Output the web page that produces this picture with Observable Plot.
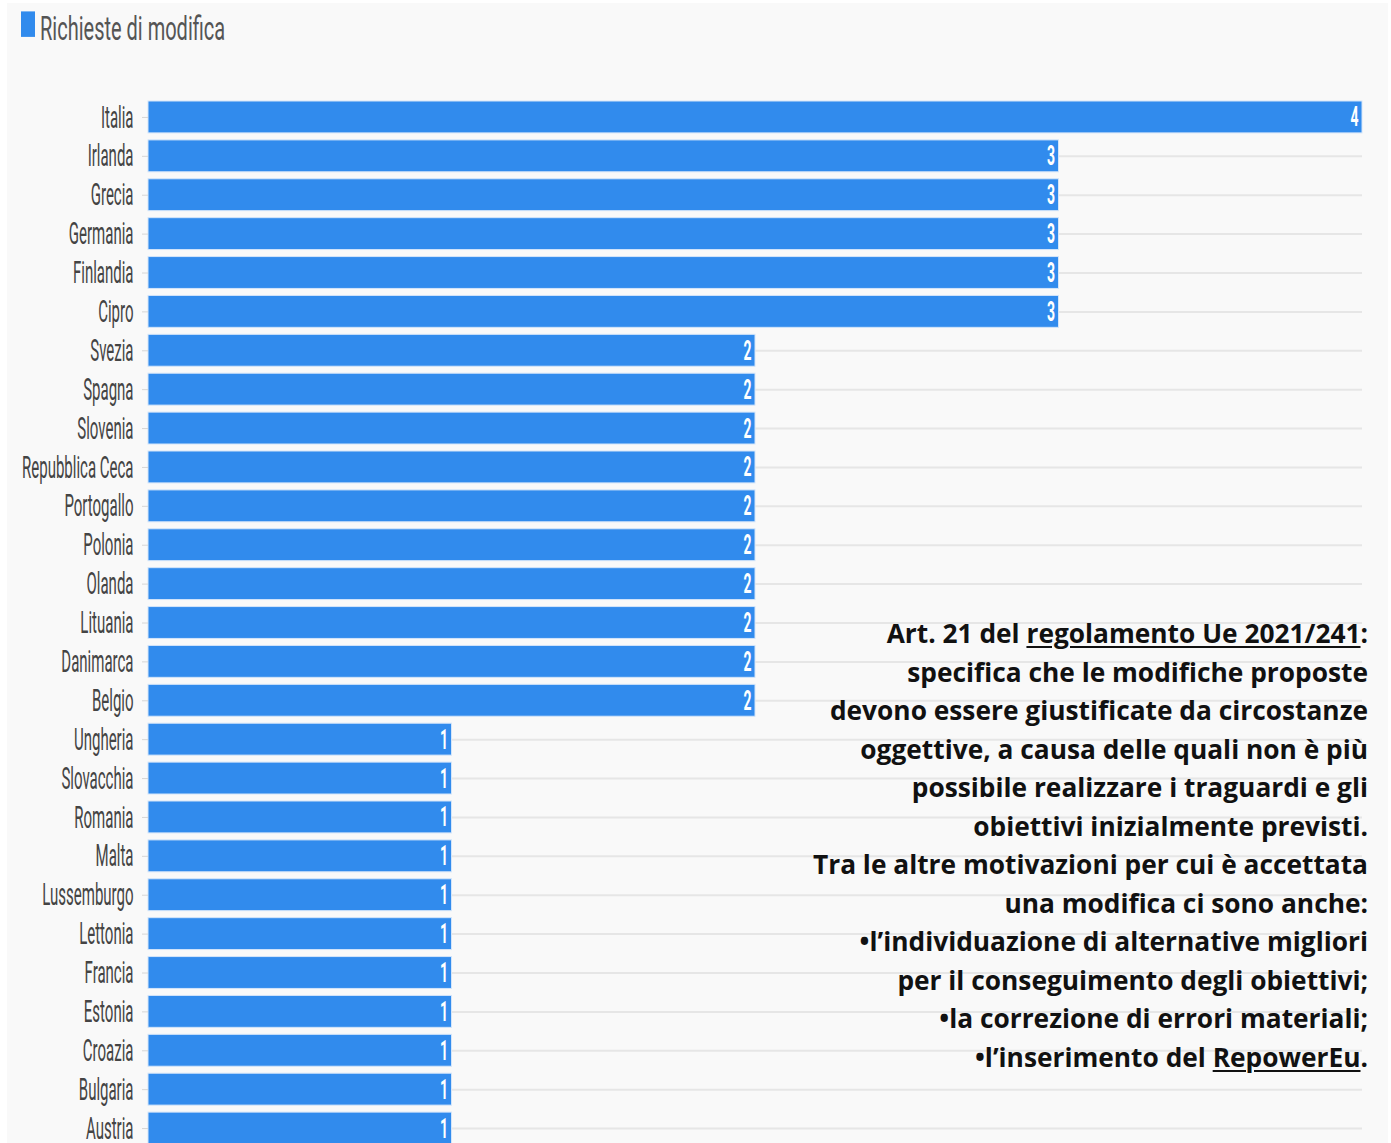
<!DOCTYPE html>
<html>
<head>
<meta charset="utf-8">
<script src="https://cdn.jsdelivr.net/npm/d3@7"></script>
<script src="https://cdn.jsdelivr.net/npm/@observablehq/plot@0.6"></script>
<style>
  html, body { margin: 0; padding: 0; background: #ffffff; }
  #panel { position: absolute; left: 7px; top: 3px; width: 1381px; height: 1140px; background: #f9f9f9; overflow: hidden; }
  #title { position: absolute; left: 14px; top: 5px; display: flex; align-items: flex-start; font-family: Roboto, sans-serif; font-size: 20px; color: #555; transform: scale(1, 1.7); transform-origin: 0 0; }
  #title .sw { width: 14px; height: 15px; background: #318bed; margin-top: 2px; margin-right: 5px; }
  #note { position: absolute; right: 20px; top: 611px; text-align: right; font-family: "Open Sans", sans-serif; font-weight: 700; font-size: 26.3px; line-height: 38.5px; color: #111; white-space: nowrap; }
  #note u { text-decoration-thickness: 2px; text-underline-offset: 3px; }
</style>
</head>
<body>
<div id="panel">
  <div id="chart"></div>
  <div id="title"><div class="sw"></div><span>Richieste di modifica</span></div>
  <div id="note">
    Art. 21 del <u>regolamento Ue 2021/241</u>:<br>
    specifica che le modifiche proposte<br>
    devono essere giustificate da circostanze<br>
    oggettive, a causa delle quali non è più<br>
    possibile realizzare i traguardi e gli<br>
    obiettivi inizialmente previsti.<br>
    Tra le altre motivazioni per cui è accettata<br>
    una modifica ci sono anche:<br>
    •l’individuazione di alternative migliori<br>
    per il conseguimento degli obiettivi;<br>
    •la correzione di errori materiali;<br>
    •l’inserimento del <u>RepowerEu</u>.
  </div>
</div>
<script>
const countries = ["Italia","Irlanda","Grecia","Germania","Finlandia","Cipro","Svezia","Spagna","Slovenia","Repubblica Ceca","Portogallo","Polonia","Olanda","Lituania","Danimarca","Belgio","Ungheria","Slovacchia","Romania","Malta","Lussemburgo","Lettonia","Francia","Estonia","Croazia","Bulgaria","Austria"];
const values = [4,3,3,3,3,3,2,2,2,2,2,2,2,2,2,2,1,1,1,1,1,1,1,1,1,1,1];
const xDomain = [0, 4];

const data = countries.map((c, i) => ({country: c, value: values[i]}));

const chart = Plot.plot({
  width: 1381,
  height: 1140,
  marginLeft: 141,
  marginRight: 26,
  marginTop: 0,
  marginBottom: 0,
  style: {background: "transparent", fontFamily: "Roboto, sans-serif", fontSize: "15px", color: "#444", overflow: "hidden"},
  x: {domain: xDomain, axis: null},
  y: {domain: countries, range: [91, 1148], padding: 0.18, round: false, label: null},
  marks: [
    Plot.gridY({stroke: "#e6e6e6", strokeOpacity: 1, strokeWidth: 2}),
    Plot.barX(data, {x: "value", y: "country", fill: "#318bed", stroke: "#d3e5fa", strokeWidth: 1}),
    Plot.text(data, {x: "value", y: "country", text: d => String(d.value), textAnchor: "end", dx: -4, fill: "#ffffff", fontWeight: "bold", fontSize: 14}),
    Plot.axisY({tickSize: 6, tickPadding: 9, stroke: "#d6d6d6", fill: "#444", fontSize: 15, label: null})
  ]
});
document.getElementById("chart").appendChild(chart);

// vertical stretch of chart text (condensed look of the original), scaled about each text's anchor
chart.querySelectorAll('g[aria-label="y-axis tick label"] text').forEach(t => {
  const tr = t.getAttribute("transform") || "";
  t.setAttribute("transform", `${tr} scale(1,2.1)`);
});
chart.querySelectorAll('g[aria-label="text"] text').forEach(t => {
  const tr = t.getAttribute("transform") || "";
  t.setAttribute("transform", `${tr} scale(1,2)`);
});
</script>
</body>
</html>
